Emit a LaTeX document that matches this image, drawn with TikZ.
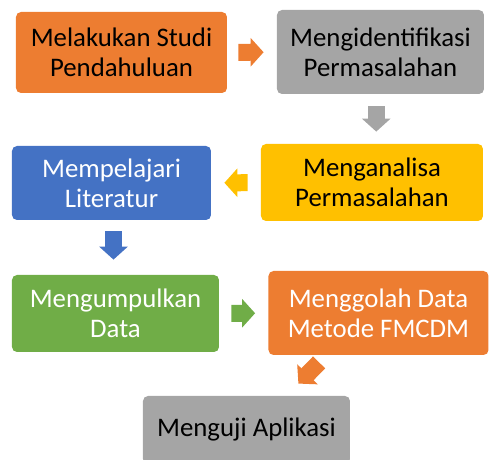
\documentclass[tikz,border=0pt]{standalone}
\usepackage{fontspec}
\setmainfont{Carlito}
\usepackage{tikz}
\usetikzlibrary{arrows.meta, calc}

\definecolor{accorange}{HTML}{ED7D31}
\definecolor{accgray}{HTML}{A5A5A5}
\definecolor{accyellow}{HTML}{FFC000}
\definecolor{accblue}{HTML}{4472C4}
\definecolor{accgreen}{HTML}{70AD47}

\begin{document}
\begin{tikzpicture}[
  x=0.5pt, y=-0.5pt,
  box/.style={rounded corners=2.5pt, align=center, inner sep=0pt,
    font=\fontsize{13.4}{15}\selectfont},
  arrow/.style={line width=8.5pt, -{Triangle[length=6.5pt, width=14pt]}}
]
\clip (0,0) rectangle (489,460);

\node[box, fill=accorange, minimum width=105.5pt, minimum height=40.5pt] (studi) at (121.5,52.5) {Melakukan Studi\\Pendahuluan};
\node[box, fill=accgray, minimum width=103.5pt, minimum height=42pt] (identifikasi) at (380.5,52) {Mengidentifikasi\\Permasalahan};
\node[box, fill=accyellow, minimum width=111pt, minimum height=38.5pt] (analisa) at (372,182.5) {Menganalisa\\Permasalahan};
\node[box, fill=accblue, text=white, minimum width=99.5pt, minimum height=37pt] (literatur) at (111.5,183) {Mempelajari\\Literatur};
\node[box, fill=accgreen, text=white, minimum width=103.5pt, minimum height=38.5pt] (data) at (115.5,313.5) {Mengumpulkan\\Data};
\node[box, fill=accorange, text=white, minimum width=110pt, minimum height=42pt] (olah) at (378.5,313) {Menggolah Data\\Metode FMCDM};
\node[box, fill=accgray, minimum width=103.5pt, minimum height=34pt] (uji) at (246.5,430) {Menguji Aplikasi};

% block arrows between the steps
\coordinate (m1) at ($(identifikasi.south)!0.5!(analisa.north)$);
\coordinate (m2) at ($(literatur.south)!0.5!(data.north)$);

\draw[arrow, accorange, shorten <=5.5pt, shorten >=6.5pt] (studi) -- (identifikasi);
\draw[arrow, accgray, shorten <=6pt, shorten >=6pt] (m1 |- identifikasi.south) -- (m1 |- analisa.north);
\draw[arrow, accyellow, shorten <=6.5pt, shorten >=6.5pt] (analisa) -- (literatur);
\draw[arrow, accblue, shorten <=5.5pt, shorten >=7.5pt] (m2 |- literatur.south) -- (m2 |- data.north);
\draw[arrow, accgreen, shorten <=6pt, shorten >=6.5pt] (data) -- (olah);
\draw[arrow, accorange] ([xshift=25.5pt, yshift=-3.5pt]olah.south west) -- ([xshift=-26pt, yshift=6pt]uji.north east);

\end{tikzpicture}
\end{document}
